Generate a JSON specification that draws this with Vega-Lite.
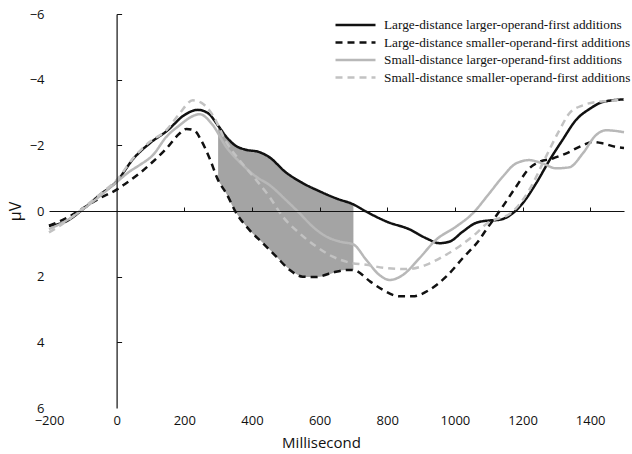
{
  "$schema": "https://vega.github.io/schema/vega-lite/v6.json",
  "width": 575,
  "height": 394,
  "autosize": {"type": "none"},
  "padding": {"left": 49, "top": 14, "right": 8, "bottom": 46},
  "background": "white",
  "config": {"view": {"stroke": null}, "font": "Open Sans"},
  "layer": [
    {
      "data": {"values": [
        {"ms": 300, "top": -2.6, "bottom": -0.94},
        {"ms": 325, "top": -2.25, "bottom": -0.52},
        {"ms": 350, "top": -2.0, "bottom": 0.0},
        {"ms": 375, "top": -1.88, "bottom": 0.36},
        {"ms": 400, "top": -1.84, "bottom": 0.66},
        {"ms": 425, "top": -1.8, "bottom": 0.9},
        {"ms": 450, "top": -1.65, "bottom": 1.15},
        {"ms": 475, "top": -1.42, "bottom": 1.42},
        {"ms": 500, "top": -1.18, "bottom": 1.68},
        {"ms": 525, "top": -1.0, "bottom": 1.88},
        {"ms": 550, "top": -0.85, "bottom": 2.0},
        {"ms": 575, "top": -0.7, "bottom": 2.01},
        {"ms": 600, "top": -0.6, "bottom": 2.0},
        {"ms": 625, "top": -0.49, "bottom": 1.94},
        {"ms": 650, "top": -0.38, "bottom": 1.85},
        {"ms": 675, "top": -0.28, "bottom": 1.8},
        {"ms": 700, "top": -0.2, "bottom": 1.8}
      ]},
      "mark": {"type": "area", "color": "#a4a4a4", "opacity": 1, "interpolate": "monotone"},
      "encoding": {
        "x": {
          "field": "ms", "type": "quantitative",
          "scale": {"domain": [-200, 1500], "nice": false, "zero": false},
          "axis": {
            "orient": "bottom", "values": [-200, 0, 200, 400, 600, 800, 1000, 1200, 1400], "format": "d",
            "domain": false, "ticks": false, "grid": false, "labelPadding": 6, "labelFlush": false,
            "labelFont": "Open Sans", "labelFontSize": 13, "labelColor": "#111",
            "title": "Millisecond", "titleFont": "Open Sans", "titleFontSize": 15, "titleFontWeight": "normal",
            "titleColor": "#111", "titlePadding": 8, "titleX": 272
          }
        },
        "y": {
          "field": "top", "type": "quantitative",
          "scale": {"domain": [-6, 6], "reverse": true, "nice": false, "zero": false},
          "axis": {
            "orient": "left", "values": [-6, -4, -2, 0, 2, 4, 6],
            "domain": false, "ticks": false, "grid": false, "labelPadding": 5,
            "labelFont": "Open Sans", "labelFontSize": 13, "labelColor": "#111",
            "title": "μV", "titleFont": "Open Sans", "titleFontSize": 16, "titleFontWeight": "normal",
            "titleColor": "#111", "titlePadding": 6
          }
        },
        "y2": {"field": "bottom"}
      }
    },
    {
      "data": {"values": [
        {"series": "Large-distance larger-operand-first additions", "ms": -200, "uv": 0.45},
        {"series": "Large-distance larger-operand-first additions", "ms": -150, "uv": 0.32},
        {"series": "Large-distance larger-operand-first additions", "ms": -100, "uv": -0.05},
        {"series": "Large-distance larger-operand-first additions", "ms": -50, "uv": -0.49},
        {"series": "Large-distance larger-operand-first additions", "ms": 0, "uv": -0.9},
        {"series": "Large-distance larger-operand-first additions", "ms": 50, "uv": -1.6},
        {"series": "Large-distance larger-operand-first additions", "ms": 100, "uv": -2.08},
        {"series": "Large-distance larger-operand-first additions", "ms": 150, "uv": -2.45},
        {"series": "Large-distance larger-operand-first additions", "ms": 200, "uv": -2.92},
        {"series": "Large-distance larger-operand-first additions", "ms": 240, "uv": -3.08},
        {"series": "Large-distance larger-operand-first additions", "ms": 270, "uv": -2.98},
        {"series": "Large-distance larger-operand-first additions", "ms": 300, "uv": -2.6},
        {"series": "Large-distance larger-operand-first additions", "ms": 325, "uv": -2.25},
        {"series": "Large-distance larger-operand-first additions", "ms": 350, "uv": -2.0},
        {"series": "Large-distance larger-operand-first additions", "ms": 380, "uv": -1.87},
        {"series": "Large-distance larger-operand-first additions", "ms": 420, "uv": -1.8},
        {"series": "Large-distance larger-operand-first additions", "ms": 450, "uv": -1.65},
        {"series": "Large-distance larger-operand-first additions", "ms": 500, "uv": -1.18},
        {"series": "Large-distance larger-operand-first additions", "ms": 550, "uv": -0.85},
        {"series": "Large-distance larger-operand-first additions", "ms": 600, "uv": -0.6},
        {"series": "Large-distance larger-operand-first additions", "ms": 650, "uv": -0.38},
        {"series": "Large-distance larger-operand-first additions", "ms": 700, "uv": -0.2},
        {"series": "Large-distance larger-operand-first additions", "ms": 738, "uv": 0.02},
        {"series": "Large-distance larger-operand-first additions", "ms": 800, "uv": 0.33},
        {"series": "Large-distance larger-operand-first additions", "ms": 866, "uv": 0.56},
        {"series": "Large-distance larger-operand-first additions", "ms": 915, "uv": 0.83},
        {"series": "Large-distance larger-operand-first additions", "ms": 955, "uv": 0.98},
        {"series": "Large-distance larger-operand-first additions", "ms": 985, "uv": 0.93},
        {"series": "Large-distance larger-operand-first additions", "ms": 1023, "uv": 0.63},
        {"series": "Large-distance larger-operand-first additions", "ms": 1063, "uv": 0.36},
        {"series": "Large-distance larger-operand-first additions", "ms": 1100, "uv": 0.29},
        {"series": "Large-distance larger-operand-first additions", "ms": 1131, "uv": 0.27},
        {"series": "Large-distance larger-operand-first additions", "ms": 1171, "uv": 0.07},
        {"series": "Large-distance larger-operand-first additions", "ms": 1200, "uv": -0.23},
        {"series": "Large-distance larger-operand-first additions", "ms": 1240, "uv": -0.84},
        {"series": "Large-distance larger-operand-first additions", "ms": 1280, "uv": -1.55},
        {"series": "Large-distance larger-operand-first additions", "ms": 1318, "uv": -2.16},
        {"series": "Large-distance larger-operand-first additions", "ms": 1358, "uv": -2.77},
        {"series": "Large-distance larger-operand-first additions", "ms": 1400, "uv": -3.12},
        {"series": "Large-distance larger-operand-first additions", "ms": 1437, "uv": -3.32},
        {"series": "Large-distance larger-operand-first additions", "ms": 1500, "uv": -3.4},

        {"series": "Large-distance smaller-operand-first additions", "ms": -200, "uv": 0.45},
        {"series": "Large-distance smaller-operand-first additions", "ms": -140, "uv": 0.17},
        {"series": "Large-distance smaller-operand-first additions", "ms": -100, "uv": -0.08},
        {"series": "Large-distance smaller-operand-first additions", "ms": -50, "uv": -0.39},
        {"series": "Large-distance smaller-operand-first additions", "ms": 0, "uv": -0.65},
        {"series": "Large-distance smaller-operand-first additions", "ms": 20, "uv": -0.79},
        {"series": "Large-distance smaller-operand-first additions", "ms": 68, "uv": -1.15},
        {"series": "Large-distance smaller-operand-first additions", "ms": 107, "uv": -1.5},
        {"series": "Large-distance smaller-operand-first additions", "ms": 147, "uv": -1.9},
        {"series": "Large-distance smaller-operand-first additions", "ms": 186, "uv": -2.36},
        {"series": "Large-distance smaller-operand-first additions", "ms": 206, "uv": -2.5},
        {"series": "Large-distance smaller-operand-first additions", "ms": 230, "uv": -2.45},
        {"series": "Large-distance smaller-operand-first additions", "ms": 250, "uv": -2.15},
        {"series": "Large-distance smaller-operand-first additions", "ms": 275, "uv": -1.6},
        {"series": "Large-distance smaller-operand-first additions", "ms": 300, "uv": -0.94},
        {"series": "Large-distance smaller-operand-first additions", "ms": 325, "uv": -0.52},
        {"series": "Large-distance smaller-operand-first additions", "ms": 354, "uv": 0.07},
        {"series": "Large-distance smaller-operand-first additions", "ms": 393, "uv": 0.58},
        {"series": "Large-distance smaller-operand-first additions", "ms": 432, "uv": 0.98},
        {"series": "Large-distance smaller-operand-first additions", "ms": 472, "uv": 1.39},
        {"series": "Large-distance smaller-operand-first additions", "ms": 511, "uv": 1.79},
        {"series": "Large-distance smaller-operand-first additions", "ms": 550, "uv": 2.0},
        {"series": "Large-distance smaller-operand-first additions", "ms": 590, "uv": 2.01},
        {"series": "Large-distance smaller-operand-first additions", "ms": 640, "uv": 1.87},
        {"series": "Large-distance smaller-operand-first additions", "ms": 680, "uv": 1.8},
        {"series": "Large-distance smaller-operand-first additions", "ms": 700, "uv": 1.8},
        {"series": "Large-distance smaller-operand-first additions", "ms": 750, "uv": 2.15},
        {"series": "Large-distance smaller-operand-first additions", "ms": 787, "uv": 2.4},
        {"series": "Large-distance smaller-operand-first additions", "ms": 836, "uv": 2.6},
        {"series": "Large-distance smaller-operand-first additions", "ms": 875, "uv": 2.6},
        {"series": "Large-distance smaller-operand-first additions", "ms": 925, "uv": 2.4},
        {"series": "Large-distance smaller-operand-first additions", "ms": 974, "uv": 2.0},
        {"series": "Large-distance smaller-operand-first additions", "ms": 1023, "uv": 1.44},
        {"series": "Large-distance smaller-operand-first additions", "ms": 1072, "uv": 0.88},
        {"series": "Large-distance smaller-operand-first additions", "ms": 1092, "uv": 0.58},
        {"series": "Large-distance smaller-operand-first additions", "ms": 1141, "uv": -0.13},
        {"series": "Large-distance smaller-operand-first additions", "ms": 1181, "uv": -0.74},
        {"series": "Large-distance smaller-operand-first additions", "ms": 1220, "uv": -1.3},
        {"series": "Large-distance smaller-operand-first additions", "ms": 1250, "uv": -1.5},
        {"series": "Large-distance smaller-operand-first additions", "ms": 1289, "uv": -1.6},
        {"series": "Large-distance smaller-operand-first additions", "ms": 1328, "uv": -1.75},
        {"series": "Large-distance smaller-operand-first additions", "ms": 1378, "uv": -2.0},
        {"series": "Large-distance smaller-operand-first additions", "ms": 1407, "uv": -2.1},
        {"series": "Large-distance smaller-operand-first additions", "ms": 1437, "uv": -2.06},
        {"series": "Large-distance smaller-operand-first additions", "ms": 1476, "uv": -1.95},
        {"series": "Large-distance smaller-operand-first additions", "ms": 1500, "uv": -1.92},

        {"series": "Small-distance larger-operand-first additions", "ms": -200, "uv": 0.55},
        {"series": "Small-distance larger-operand-first additions", "ms": -150, "uv": 0.3},
        {"series": "Small-distance larger-operand-first additions", "ms": -100, "uv": -0.05},
        {"series": "Small-distance larger-operand-first additions", "ms": -50, "uv": -0.45},
        {"series": "Small-distance larger-operand-first additions", "ms": 0, "uv": -0.88},
        {"series": "Small-distance larger-operand-first additions", "ms": 38, "uv": -1.2},
        {"series": "Small-distance larger-operand-first additions", "ms": 68, "uv": -1.4},
        {"series": "Small-distance larger-operand-first additions", "ms": 107, "uv": -1.7},
        {"series": "Small-distance larger-operand-first additions", "ms": 147, "uv": -2.26},
        {"series": "Small-distance larger-operand-first additions", "ms": 186, "uv": -2.61},
        {"series": "Small-distance larger-operand-first additions", "ms": 225, "uv": -2.89},
        {"series": "Small-distance larger-operand-first additions", "ms": 245, "uv": -2.95},
        {"series": "Small-distance larger-operand-first additions", "ms": 284, "uv": -2.62},
        {"series": "Small-distance larger-operand-first additions", "ms": 324, "uv": -1.95},
        {"series": "Small-distance larger-operand-first additions", "ms": 363, "uv": -1.5},
        {"series": "Small-distance larger-operand-first additions", "ms": 413, "uv": -1.04},
        {"series": "Small-distance larger-operand-first additions", "ms": 452, "uv": -0.79},
        {"series": "Small-distance larger-operand-first additions", "ms": 501, "uv": -0.33},
        {"series": "Small-distance larger-operand-first additions", "ms": 541, "uv": 0.07},
        {"series": "Small-distance larger-operand-first additions", "ms": 580, "uv": 0.48},
        {"series": "Small-distance larger-operand-first additions", "ms": 620, "uv": 0.78},
        {"series": "Small-distance larger-operand-first additions", "ms": 659, "uv": 0.93},
        {"series": "Small-distance larger-operand-first additions", "ms": 700, "uv": 1.02},
        {"series": "Small-distance larger-operand-first additions", "ms": 738, "uv": 1.49},
        {"series": "Small-distance larger-operand-first additions", "ms": 777, "uv": 1.95},
        {"series": "Small-distance larger-operand-first additions", "ms": 807, "uv": 2.1},
        {"series": "Small-distance larger-operand-first additions", "ms": 846, "uv": 1.95},
        {"series": "Small-distance larger-operand-first additions", "ms": 895, "uv": 1.44},
        {"series": "Small-distance larger-operand-first additions", "ms": 944, "uv": 0.88},
        {"series": "Small-distance larger-operand-first additions", "ms": 1003, "uv": 0.48},
        {"series": "Small-distance larger-operand-first additions", "ms": 1053, "uv": 0.07},
        {"series": "Small-distance larger-operand-first additions", "ms": 1102, "uv": -0.54},
        {"series": "Small-distance larger-operand-first additions", "ms": 1141, "uv": -1.04},
        {"series": "Small-distance larger-operand-first additions", "ms": 1181, "uv": -1.45},
        {"series": "Small-distance larger-operand-first additions", "ms": 1220, "uv": -1.55},
        {"series": "Small-distance larger-operand-first additions", "ms": 1259, "uv": -1.45},
        {"series": "Small-distance larger-operand-first additions", "ms": 1299, "uv": -1.3},
        {"series": "Small-distance larger-operand-first additions", "ms": 1338, "uv": -1.33},
        {"series": "Small-distance larger-operand-first additions", "ms": 1378, "uv": -1.75},
        {"series": "Small-distance larger-operand-first additions", "ms": 1417, "uv": -2.31},
        {"series": "Small-distance larger-operand-first additions", "ms": 1447, "uv": -2.46},
        {"series": "Small-distance larger-operand-first additions", "ms": 1500, "uv": -2.4},

        {"series": "Small-distance smaller-operand-first additions", "ms": -200, "uv": 0.65},
        {"series": "Small-distance smaller-operand-first additions", "ms": -149, "uv": 0.32},
        {"series": "Small-distance smaller-operand-first additions", "ms": -100, "uv": -0.08},
        {"series": "Small-distance smaller-operand-first additions", "ms": -40, "uv": -0.59},
        {"series": "Small-distance smaller-operand-first additions", "ms": 0, "uv": -0.94},
        {"series": "Small-distance smaller-operand-first additions", "ms": 48, "uv": -1.6},
        {"series": "Small-distance smaller-operand-first additions", "ms": 97, "uv": -2.1},
        {"series": "Small-distance smaller-operand-first additions", "ms": 147, "uv": -2.46},
        {"series": "Small-distance smaller-operand-first additions", "ms": 186, "uv": -2.97},
        {"series": "Small-distance smaller-operand-first additions", "ms": 225, "uv": -3.37},
        {"series": "Small-distance smaller-operand-first additions", "ms": 250, "uv": -3.3},
        {"series": "Small-distance smaller-operand-first additions", "ms": 284, "uv": -2.92},
        {"series": "Small-distance smaller-operand-first additions", "ms": 324, "uv": -2.1},
        {"series": "Small-distance smaller-operand-first additions", "ms": 363, "uv": -1.55},
        {"series": "Small-distance smaller-operand-first additions", "ms": 413, "uv": -0.94},
        {"series": "Small-distance smaller-operand-first additions", "ms": 452, "uv": -0.43},
        {"series": "Small-distance smaller-operand-first additions", "ms": 491, "uv": 0.17},
        {"series": "Small-distance smaller-operand-first additions", "ms": 541, "uv": 0.68},
        {"series": "Small-distance smaller-operand-first additions", "ms": 590, "uv": 1.08},
        {"series": "Small-distance smaller-operand-first additions", "ms": 639, "uv": 1.39},
        {"series": "Small-distance smaller-operand-first additions", "ms": 688, "uv": 1.57},
        {"series": "Small-distance smaller-operand-first additions", "ms": 738, "uv": 1.64},
        {"series": "Small-distance smaller-operand-first additions", "ms": 797, "uv": 1.74},
        {"series": "Small-distance smaller-operand-first additions", "ms": 856, "uv": 1.77},
        {"series": "Small-distance smaller-operand-first additions", "ms": 915, "uv": 1.64},
        {"series": "Small-distance smaller-operand-first additions", "ms": 964, "uv": 1.39},
        {"series": "Small-distance smaller-operand-first additions", "ms": 1013, "uv": 1.08},
        {"series": "Small-distance smaller-operand-first additions", "ms": 1063, "uv": 0.68},
        {"series": "Small-distance smaller-operand-first additions", "ms": 1092, "uv": 0.4},
        {"series": "Small-distance smaller-operand-first additions", "ms": 1171, "uv": 0.02},
        {"series": "Small-distance smaller-operand-first additions", "ms": 1220, "uv": -0.64},
        {"series": "Small-distance smaller-operand-first additions", "ms": 1269, "uv": -1.65},
        {"series": "Small-distance smaller-operand-first additions", "ms": 1309, "uv": -2.46},
        {"series": "Small-distance smaller-operand-first additions", "ms": 1338, "uv": -2.97},
        {"series": "Small-distance smaller-operand-first additions", "ms": 1378, "uv": -3.22},
        {"series": "Small-distance smaller-operand-first additions", "ms": 1417, "uv": -3.32},
        {"series": "Small-distance smaller-operand-first additions", "ms": 1456, "uv": -3.35},
        {"series": "Small-distance smaller-operand-first additions", "ms": 1500, "uv": -3.4}
      ]},
      "mark": {"type": "line", "interpolate": "monotone", "strokeWidth": 2.5},
      "encoding": {
        "x": {
          "field": "ms", "type": "quantitative",
          "axis": {
            "orient": "top", "offset": -197, "values": [200, 400, 600, 800, 1000, 1200, 1400],
            "labels": false, "grid": false, "domain": true, "domainColor": "#111", "domainWidth": 1.2,
            "ticks": true, "tickColor": "#111", "tickSize": 4, "tickWidth": 1, "title": null, "zindex": 1
          }
        },
        "y": {
          "field": "uv", "type": "quantitative",
          "axis": {
            "orient": "right", "offset": -507.4, "values": [-6, -4, -2, 2, 4],
            "labels": false, "grid": false, "domain": true, "domainColor": "#111", "domainWidth": 1.2,
            "ticks": true, "tickColor": "#111", "tickSize": 5, "tickWidth": 1, "title": null, "zindex": 1
          }
        },
        "color": {
          "field": "series", "type": "nominal",
          "scale": {
            "domain": [
              "Large-distance larger-operand-first additions",
              "Large-distance smaller-operand-first additions",
              "Small-distance larger-operand-first additions",
              "Small-distance smaller-operand-first additions"
            ],
            "range": ["#111111", "#111111", "#b8b8b8", "#c2c2c2"]
          },
          "legend": {
            "orient": "none", "legendX": 285, "legendY": 4, "title": null, "padding": 0,
            "symbolType": "stroke", "symbolSize": 1600, "symbolStrokeWidth": 2.5,
            "labelFont": "Liberation Serif", "labelFontSize": 13.3, "labelColor": "#111",
            "labelOffset": 7, "labelLimit": 400, "rowPadding": 3.5, "clipHeight": 14
          }
        },
        "strokeDash": {
          "field": "series", "type": "nominal",
          "scale": {
            "domain": [
              "Large-distance larger-operand-first additions",
              "Large-distance smaller-operand-first additions",
              "Small-distance larger-operand-first additions",
              "Small-distance smaller-operand-first additions"
            ],
            "range": [[1, 0], [7, 5], [1, 0], [7, 5]]
          }
        }
      }
    }
  ]
}
